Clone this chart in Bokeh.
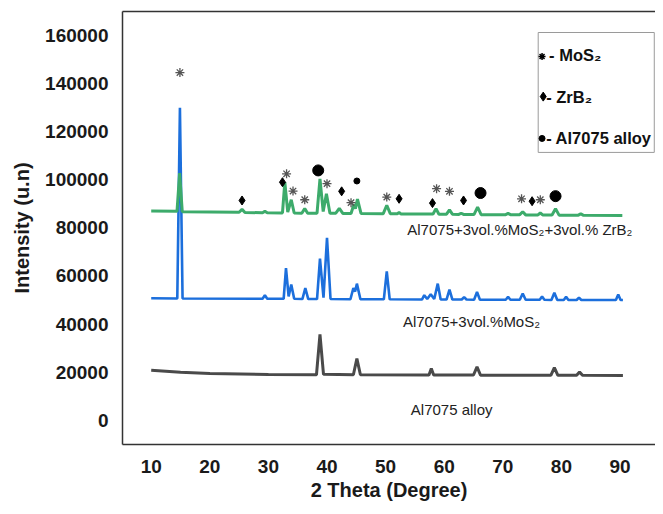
from bokeh.plotting import figure
from bokeh.models import Range1d, FixedTicker, BasicTickFormatter, LinearAxis
from bokeh.core.properties import value
from bokeh.embed import file_html
from bokeh.resources import INLINE

# ---------------- data ----------------
x_ticks = [10, 20, 30, 40, 50, 60, 70, 80, 90]
y_ticks = [0, 20000, 40000, 60000, 80000, 100000, 120000, 140000, 160000]

green_x = [10, 14.4, 14.85, 15.3, 25.0, 25.5, 26.0, 29.0, 29.4, 29.8,
           32.4, 32.8, 33.3, 33.9, 34.4, 35.7, 36.2, 36.7,
           38.3, 38.8, 39.35, 39.9, 40.5, 41.5, 42.1, 42.7,
           44.1, 44.6, 44.85, 45.2, 45.8, 49.6, 50.2, 50.8,
           52.0, 52.3, 52.6, 58.1, 58.6, 59.1, 60.4, 60.9, 61.4,
           62.5, 62.9, 63.3, 65.1, 65.7, 66.3, 70.5, 70.9, 71.3,
           72.9, 73.4, 73.9, 76.0, 76.4, 76.8, 78.4, 79.0, 79.6,
           82.9, 83.3, 83.7, 90.4]
green_y = [87000, 86900, 102800, 86700, 86500, 87700, 86400, 86300, 86900, 86300,
           86200, 99000, 86600, 91700, 86200, 86100, 88100, 86100,
           86100, 100400, 86800, 94200, 86100, 86100, 88100, 86000,
           86000, 89800, 88000, 92000, 86000, 85900, 89400, 85900,
           85900, 86400, 85800, 85800, 88000, 85700, 85700, 87500, 85700,
           85600, 86100, 85600, 85600, 88600, 85500, 85500, 86000, 85500,
           85500, 86700, 85400, 85400, 86200, 85400, 85400, 88000, 85300,
           85300, 85900, 85300, 85200]

blue_x = [10, 14.45, 14.9, 15.35, 29.0, 29.4, 29.8,
          32.6, 33.0, 33.45, 33.9, 34.4, 35.8, 36.3, 36.8,
          38.3, 38.8, 39.4, 40.0, 40.6, 44.0, 44.5, 44.8, 45.1, 45.7,
          49.7, 50.2, 50.7, 56.2, 56.6, 57.1, 57.7, 58.3, 58.9, 59.4,
          60.4, 60.9, 61.4, 63.0, 63.4, 63.8, 65.1, 65.6, 66.1,
          70.5, 70.9, 71.3, 72.9, 73.4, 73.9, 76.3, 76.7, 77.1,
          78.3, 78.8, 79.3, 80.4, 80.8, 81.2, 82.6, 83.0, 83.4,
          89.3, 89.7, 90.1, 90.5]
blue_y = [50700, 50600, 130000, 50600, 50500, 52000, 50500,
          50500, 63300, 51500, 56400, 50500, 50400, 55000, 50400,
          50400, 67200, 51000, 75900, 50400, 50300, 55000, 53500, 56800, 50300,
          50300, 61900, 50300, 50200, 52000, 50400, 52400, 50400, 56800, 50200,
          50200, 54300, 50200, 50200, 51200, 50200, 50100, 53300, 50100,
          50100, 51300, 50100, 50100, 52700, 50100, 50100, 51500, 50100,
          50000, 53000, 50000, 50000, 51300, 50000, 50000, 51000, 50000,
          50000, 52300, 50000, 50000]

gray_x = [10, 15, 20, 30, 38.2, 38.8, 39.4, 44.5, 45.1, 45.7,
          57.4, 57.8, 58.2, 65.0, 65.6, 66.2, 78.2, 78.8, 79.4,
          82.6, 83.1, 83.6, 90.5]
gray_y = [20800, 20000, 19400, 19000, 18900, 35700, 19100, 18900, 25600, 18900,
          18800, 21500, 18800, 18800, 22200, 18700, 18700, 21900, 18700,
          18700, 20100, 18700, 18600]

mos2_x = [14.9, 33.1, 34.2, 36.2, 40.0, 44.1, 50.2, 58.7, 60.9, 73.2, 76.4]
mos2_y = [144600, 102500, 95300, 91700, 98400, 90500, 92800, 96300, 95200, 92100, 91700]

zrb2_x = [25.5, 32.4, 42.5, 52.3, 58.0, 63.3, 75.0]
zrb2_y = [91400, 99000, 95200, 92100, 90300, 91400, 91100]

al_x = [38.5, 66.2, 79.0]
al_y = [103900, 94500, 93200]
al_small_x = [45.1]
al_small_y = [99500]

series_labels = ["Al7075+3vol.%MoS\u2082+3vol.% ZrB\u2082", "Al7075+3vol.%MoS\u2082", "Al7075 alloy"]
legend_labels = ["- MoS\u2082", "- ZrB\u2082", "- Al7075 alloy"]

# ---------------- figure ----------------
FONT = "Liberation Sans"
p = figure(width=655, height=506, output_backend="svg", toolbar_location=None,
           x_range=Range1d(5.1, 96.06), y_range=Range1d(-10100, 170000),
           min_border_left=122, min_border_right=0, min_border_top=11, min_border_bottom=62,
           background_fill_color="white", border_fill_color="white")
p.outline_line_color = None
p.grid.visible = False

for ax in (p.xaxis[0], p.yaxis[0]):
    ax.axis_line_color = "#333333"
    ax.axis_line_width = 1.5
    ax.major_tick_line_color = None
    ax.minor_tick_line_color = None
    ax.major_tick_out = 0
    ax.major_tick_in = 0
    ax.major_label_text_font = FONT
    ax.major_label_text_font_style = "bold"
    ax.major_label_text_font_size = "19px"
    ax.major_label_text_color = "#1a1a1a"
    ax.axis_label_text_font = FONT
    ax.axis_label_text_font_style = "bold"
    ax.axis_label_text_font_size = "20px"
    ax.axis_label_text_color = "#1a1a1a"

p.xaxis.ticker = FixedTicker(ticks=x_ticks)
p.yaxis.ticker = FixedTicker(ticks=y_ticks)
p.yaxis.formatter = BasicTickFormatter(use_scientific=False)
p.xaxis.axis_label = "2 Theta (Degree)"
p.yaxis.axis_label = "Intensity (u.n)"
p.xaxis.major_label_standoff = 15
p.yaxis.major_label_standoff = 14
p.xaxis.axis_label_standoff = 3
p.yaxis.axis_label_standoff = 9

top_axis = LinearAxis(axis_line_color="#333333", axis_line_width=1.5,
                      major_tick_line_color=None, minor_tick_line_color=None,
                      major_tick_out=0, major_tick_in=0,
                      major_label_text_font_size="0px", ticker=FixedTicker(ticks=[]))
p.add_layout(top_axis, "above")

# ---------------- patterns ----------------
p.line(gray_x, gray_y, line_color="#4a4a4a", line_width=3)
p.line(blue_x, blue_y, line_color="#1c6fdc", line_width=2.6)
p.line(green_x, green_y, line_color="#3dab6b", line_width=3)

# ---------------- phase markers ----------------
p.scatter(mos2_x, mos2_y, marker="asterisk", size=9, line_color="#555555", line_width=1.3)
p.scatter(zrb2_x, zrb2_y, marker="diamond", size=9, fill_color="black", line_color="black")
p.scatter(al_x, al_y, marker="circle", size=11, fill_color="black", line_color="black")
p.scatter(al_small_x, al_small_y, marker="circle", size=6, fill_color="black", line_color="black")

# ---------------- series labels ----------------
p.text([53.7, 52.95, 54.3], [79400, 40860, 4570], text=series_labels,
       text_font=value(FONT), text_font_size="15px", text_color="#222222",
       text_baseline="alphabetic", text_align="left")

# ---------------- legend box ----------------
p.quad(left=[76.04], right=[95.85], top=[161260], bottom=[111390],
       fill_color="white", line_color="#9a9a9a", line_width=1)
p.scatter([76.7], [151300], marker="asterisk", size=7, line_color="black", line_width=1.5)
p.scatter([76.9], [134600], marker="diamond", size=9, fill_color="black", line_color="black")
p.scatter([76.7], [117200], marker="circle", size=6, fill_color="black", line_color="black")
p.text([77.9, 77.4, 77.4], [151700, 134600, 117200], text=legend_labels,
       text_font=value(FONT), text_font_style="bold", text_font_size="16.5px",
       text_color="#111111", text_baseline="middle", text_align="left")

open("out.html", "w").write(file_html(p, INLINE))
